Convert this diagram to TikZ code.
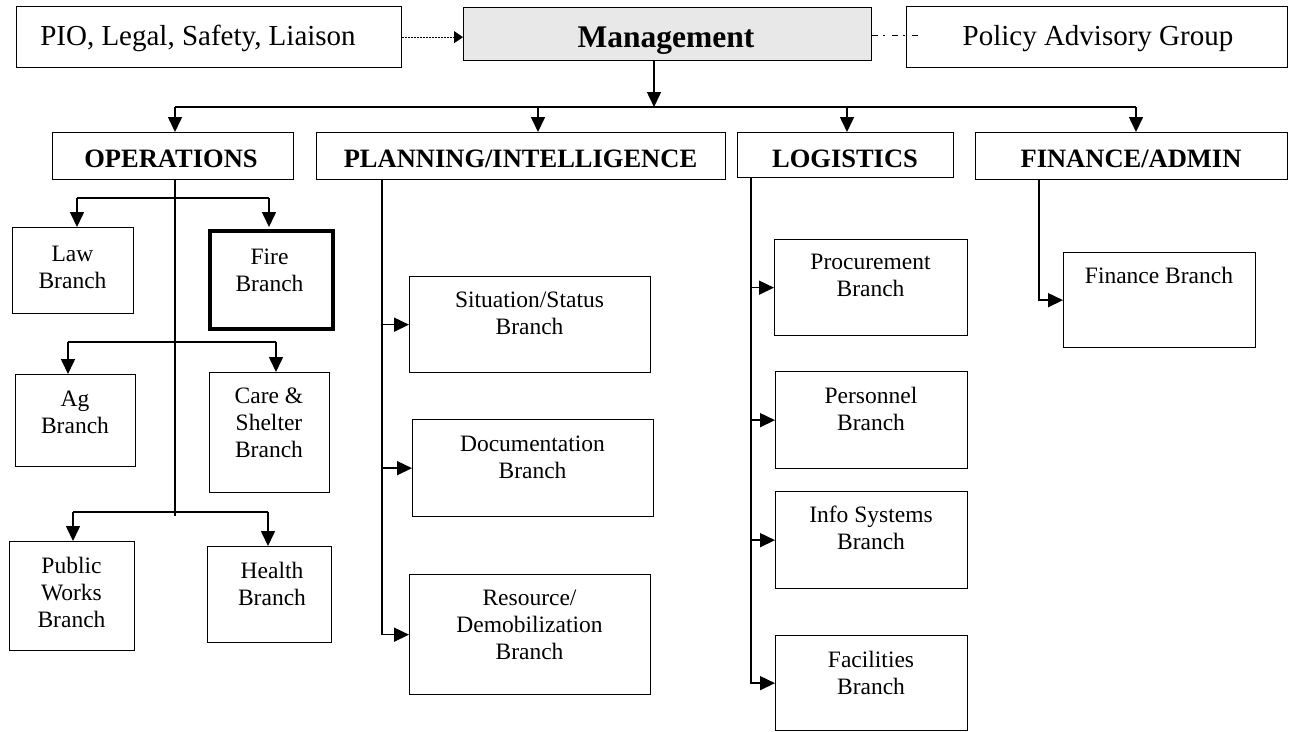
\documentclass[tikz,border=0pt]{standalone}
\usepackage{fontspec}
\setmainfont{Liberation Serif}
\usetikzlibrary{arrows.meta}
\definecolor{mgmtgray}{RGB}{232,232,232}
\begin{document}
\begin{tikzpicture}[x=1pt,y=-1pt,
 bx/.style={draw, line width=1.3pt, inner sep=0pt, anchor=north west},
 btxt/.style={anchor=north, align=center, inner sep=0pt, font=\fontsize{23.5}{27}\selectfont},
 htxt/.style={anchor=base, inner sep=0pt, font=\fontsize{26.5}{30}\selectfont\bfseries},
 ttxt/.style={anchor=base, inner sep=0pt, font=\fontsize{29}{34}\selectfont},
 conn/.style={line width=1.6pt},
 arr/.style={conn, -{Triangle[length=15pt,width=14pt]}},
]
\useasboundingbox (0,0) rectangle (1289,731);

% ---- top row
\node[bx, minimum width=385pt, minimum height=61pt] (pio) at (16,6) {};
\node[bx, fill=mgmtgray, minimum width=408pt, minimum height=53pt] (mgmt) at (463,7) {};
\node[bx, minimum width=381pt, minimum height=61pt] (pag) at (906,6) {};
\node[ttxt] (piot) at (198,45) {PIO, Legal, Safety, Liaison};
\node[anchor=base, inner sep=0pt, font=\fontsize{31.5}{36}\selectfont\bfseries] (mgmtt) at (666,47) {Management};
\node[ttxt] (pagt) at (1098,45) {Policy Advisory Group};

% ---- section heads
\node[bx, minimum width=241pt, minimum height=47pt] (ops) at (52,132) {};
\node[bx, minimum width=409pt, minimum height=47pt] (plan) at (316,132) {};
\node[bx, minimum width=216pt, minimum height=45pt] (logi) at (737,132) {};
\node[bx, minimum width=312pt, minimum height=47pt] (fin) at (975,132) {};
\node[htxt] (opst) at (171,167) {OPERATIONS};
\node[htxt] (plant) at (520.5,167) {PLANNING/INTELLIGENCE};
\node[htxt] (logit) at (845,167) {LOGISTICS};
\node[htxt] (fint) at (1131,167) {FINANCE/ADMIN};

% ---- operations branches
\node[bx, minimum width=121pt, minimum height=86pt] (law) at (12,227) {};
\node[bx, line width=4pt, minimum width=123pt, minimum height=98pt] (fire) at (208,229) {};
\node[bx, minimum width=120pt, minimum height=92pt] (ag) at (15,374) {};
\node[bx, minimum width=120pt, minimum height=120pt] (care) at (209,372) {};
\node[bx, minimum width=125pt, minimum height=109pt] (pw) at (9,541) {};
\node[bx, minimum width=124pt, minimum height=96pt] (health) at (207,546) {};
\node[btxt] (lawt) at (72.5,246) {Law\\Branch};
\node[btxt] (firet) at (269.5,249) {Fire\\Branch};
\node[btxt] (agt) at (75,391) {Ag\\Branch};
\node[btxt] (caret) at (269,388) {Care \&\\Shelter\\Branch};
\node[btxt] (pwt) at (71.5,557) {Public\\Works\\Branch};
\node[btxt] (healtht) at (272,562) {Health\\Branch};

% ---- planning branches
\node[bx, minimum width=241pt, minimum height=96pt] (sit) at (409,276) {};
\node[bx, minimum width=241pt, minimum height=97pt] (doc) at (412,419) {};
\node[bx, minimum width=241pt, minimum height=120pt] (res) at (409,574) {};
\node[btxt] (sitt) at (529.5,292) {Situation/Status\\Branch};
\node[btxt] (doct) at (532.5,436) {Documentation\\Branch};
\node[btxt] (rest) at (529.5,590) {Resource/\\Demobilization\\Branch};

% ---- logistics branches
\node[bx, minimum width=193pt, minimum height=96pt] (proc) at (774,239) {};
\node[bx, minimum width=192pt, minimum height=97pt] (pers) at (775,371) {};
\node[bx, minimum width=192pt, minimum height=97pt] (info) at (775,491) {};
\node[bx, minimum width=192pt, minimum height=95pt] (fac) at (775,635) {};
\node[btxt] (proct) at (870.5,254) {Procurement\\Branch};
\node[btxt] (perst) at (871,387) {Personnel\\Branch};
\node[btxt] (infot) at (871,506) {Info Systems\\Branch};
\node[btxt] (fact) at (871,651) {Facilities\\Branch};

% ---- finance branch
\node[bx, minimum width=192pt, minimum height=95pt] (finb) at (1063,252) {};
\node[btxt, anchor=base] (finbt) at (1159,283) {Finance Branch};

% ---- top connectors
\draw[line width=0.9pt, dash pattern=on 1.5pt off 1.5pt, -{Triangle[length=9pt,width=12pt]}] (pio.east) -- (mgmt.west |- pio.east);
\coordinate (ddEnd) at (919,35);
\draw[line width=1pt, dash pattern=on 6pt off 5pt on 1.5pt off 7.5pt] (mgmt.east |- ddEnd) -- (ddEnd);

\coordinate (mA) at (654,107);
\coordinate (bOps) at (175,107);
\coordinate (bPlan) at (538,107);
\coordinate (bLog) at (847,107);
\coordinate (bFin) at (1136,107);
\draw[conn] (bOps) -- (bFin);
\draw[arr] (mgmt.south -| mA) -- (mA);
\draw[arr] (bOps) -- (ops.north -| bOps);
\draw[arr] (bPlan) -- (plan.north -| bPlan);
\draw[arr] (bLog) -- (logi.north -| bLog);
\draw[arr] (bFin) -- (fin.north -| bFin);

% ---- operations connectors
\coordinate (oEnd) at (175,516);
\draw[conn] (ops.south -| oEnd) -- (oEnd);
\coordinate (o1l) at (77,198);
\coordinate (o1r) at (269,198);
\draw[conn] (o1l) -- (o1r);
\draw[arr] (o1l) -- (law.north -| o1l);
\draw[arr, shorten >=2pt] (o1r) -- (fire.north -| o1r);
\coordinate (o2l) at (68,342);
\coordinate (o2r) at (276,342);
\draw[conn] (o2l) -- (o2r);
\draw[arr] (o2l) -- (ag.north -| o2l);
\draw[arr] (o2r) -- (care.north -| o2r);
\coordinate (o3l) at (73,512);
\coordinate (o3r) at (268,512);
\draw[conn] (o3l) -- (o3r);
\draw[arr] (o3l) -- (pw.north -| o3l);
\draw[arr] (o3r) -- (health.north -| o3r);

% ---- planning connectors
\coordinate (pT) at (382,179);
\draw[arr] (plan.south -| pT) |- (res.west);
\draw[arr] (pT |- sit.west) -- (sit.west);
\draw[arr] (pT |- doc.west) -- (doc.west);

% ---- logistics connectors
\coordinate (lT) at (751,177);
\draw[arr] (logi.south -| lT) |- (fac.west);
\draw[arr] (lT |- proc.west) -- (proc.west);
\draw[arr] (lT |- pers.west) -- (pers.west);
\draw[arr] (lT |- info.west) -- (info.west);

% ---- finance connector
\coordinate (fT) at (1039,179);
\draw[arr] (fin.south -| fT) |- (finb.west);
\end{tikzpicture}
\end{document}
